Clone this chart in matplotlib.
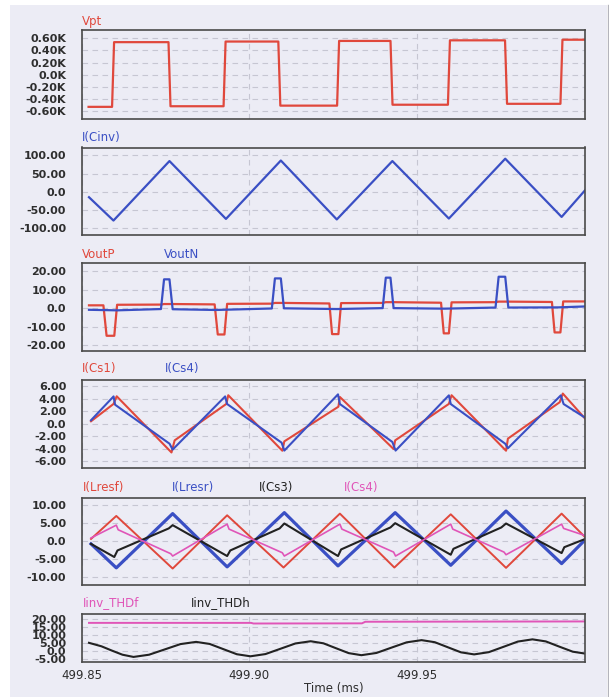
import matplotlib
matplotlib.use("Agg")
import numpy as np
import matplotlib.pyplot as plt
from matplotlib.patches import Rectangle
from matplotlib.lines import Line2D

RED = "#e0483c"
BLUE = "#3a4fc4"
MAGENTA = "#e055b8"
BLACK = "#222222"
BG = "#ececf5"
GRID = "#c6c6d2"

T0 = 499.85  # ms, time offsets below are relative to this

# Vpt (V)
vpt_t = [0.00210, 0.00910, 0.00970, 0.02590, 0.02650, 0.04230, 0.04290, 0.05860,
         0.05920, 0.07610, 0.07670, 0.09200, 0.09260, 0.10910, 0.10970, 0.12610,
         0.12670, 0.14260, 0.14320, 0.15000]
vpt_v = [-530, -530, 535, 535, -520, -520, 545, 545,
         -510, -510, 555, 555, -495, -495, 565, 565,
         -480, -480, 575, 575]

# I(Cinv)
cinv_t = [0.00223, 0.00952, 0.02619, 0.04301, 0.05935, 0.07601, 0.09256,
          0.10938, 0.12616, 0.14295, 0.15000]
cinv_v = [-15.5, -80, 84.5, -75.5, 86, -77, 84.5, -74.5, 91, -70, 4.5]

# VoutP / VoutN
voutp_t = [0.00223, 0.00652, 0.00747, 0.00976, 0.01060, 0.02366, 0.02458, 0.02714,
           0.03964, 0.04057, 0.04256, 0.04336, 0.05667, 0.05759, 0.06027, 0.07381,
           0.07461, 0.07649, 0.07729, 0.08967, 0.09060, 0.09292, 0.10705, 0.10786,
           0.10938, 0.11018, 0.12327, 0.12420, 0.12708, 0.14006, 0.14086, 0.14259,
           0.14342, 0.15000]
voutp_v = [1.5, 1.5, -14.9, -14.9, 1.8, 1.9, 2.2, 2.2,
           2.0, -14.2, -14.2, 2.3, 2.4, 2.8, 2.8, 2.5,
           -14.0, -14.0, 2.7, 2.8, 3.2, 3.2, 2.9, -13.6,
           -13.6, 3.1, 3.2, 3.5, 3.5, 3.3, -13.1, -13.1,
           3.6, 3.6]
voutn_t = [0.00223, 0.01060, 0.02366, 0.02458, 0.02619, 0.02714, 0.04000, 0.05667,
           0.05759, 0.05935, 0.06027, 0.07600, 0.08967, 0.09060, 0.09199, 0.09292,
           0.10800, 0.12327, 0.12420, 0.12616, 0.12708, 0.14200, 0.15000]
voutn_v = [-0.9, -1.2, -0.5, 15.5, 15.5, -0.6, -1.0, -0.2,
           16.0, 16.0, -0.1, -0.5, 0.0, 16.4, 16.4, 0.0,
           -0.3, 0.3, 16.9, 16.9, 0.3, 0.4, 0.9]

# I(Cs1) / I(Cs4)
cs1_t = [0.00283, 0.00955, 0.01048, 0.02679, 0.02774, 0.04313, 0.04369, 0.05979,
         0.06039, 0.07649, 0.07693, 0.09292, 0.09339, 0.10938, 0.11018, 0.12640,
         0.12696, 0.14238, 0.14330, 0.15000]
cs1_v = [0.39, 3.17, 4.39, -4.61, -2.67, 3.17, 4.56, -4.33,
         -2.83, 2.72, 4.28, -4.06, -2.67, 3.17, 4.56, -4.33,
         -2.39, 3.44, 4.83, 0.78]
cs4_t = [0.00283, 0.00955, 0.01000, 0.02622, 0.02714, 0.04277, 0.04336, 0.05958,
         0.06039, 0.07637, 0.07693, 0.09256, 0.09351, 0.10938, 0.10994, 0.12616,
         0.12696, 0.14271, 0.14354, 0.15000]
cs4_v = [0.55, 4.37, 3.04, -3.21, -4.15, 4.37, 3.15, -3.04,
         -4.31, 4.70, 3.15, -2.93, -4.31, 4.54, 3.15, -3.21,
         -3.93, 4.54, 3.15, 0.94]

# I(Lresf), I(Lresr), I(Cs3), I(Cs4)
lresf_t = [0.00283, 0.01036, 0.02714, 0.04336, 0.06015, 0.07693, 0.09315,
           0.10994, 0.12640, 0.14295, 0.15000]
lresf_v = [0.64, 7.0, -7.55, 7.18, -7.27, 7.64, -7.27, 7.45, -7.36, 7.64, 1.09]
lresr_t = [0.00283, 0.01036, 0.02714, 0.04336, 0.06039, 0.07637, 0.09339,
           0.10994, 0.12640, 0.14295, 0.15000]
lresr_v = [-0.73, -7.36, 7.64, -7.09, 7.91, -6.82, 7.91, -6.64, 8.36, -6.18, 0.45]
cs3_t = [0.00283, 0.00976, 0.01071, 0.02598, 0.02714, 0.04336, 0.04429, 0.05899,
         0.06039, 0.07637, 0.07729, 0.09199, 0.09339, 0.10994, 0.11074, 0.12500,
         0.12640, 0.14295, 0.14375, 0.15000]
cs3_v = [-0.73, -4.36, -2.55, 3.55, 4.45, -4.09, -2.55, 3.55,
         4.91, -4.09, -2.27, 3.82, 5.0, -3.73, -2.09, 3.82,
         4.91, -3.27, -1.64, 0.64]
cs4b_t = [0.00283, 0.01036, 0.01092, 0.02658, 0.02714, 0.04336, 0.04393, 0.05979,
          0.06039, 0.07693, 0.07753, 0.09292, 0.09351, 0.10994, 0.11054, 0.12580,
          0.12640, 0.14295, 0.14354, 0.15000]
cs4b_v = [0.91, 4.45, 3.18, -3.45, -4.09, 4.73, 3.36, -3.18,
          -4.09, 4.73, 3.36, -3.0, -4.09, 4.73, 3.36, -3.0,
          -3.73, 4.73, 3.55, 1.55]

# Iinv_THDf / Iinv_THDh
thdf_t = [0.00223, 0.05050, 0.05120, 0.08350, 0.08450, 0.15000]
thdf_v = [17.6, 17.6, 17.2, 17.3, 18.3, 18.5]
thdh_t = [0.00223, 0.00595, 0.00893, 0.01220, 0.01548, 0.02012, 0.02479, 0.02946,
          0.03411, 0.03815, 0.04220, 0.04625, 0.05030, 0.05476, 0.05923, 0.06369,
          0.06824, 0.07202, 0.07577, 0.07955, 0.08333, 0.08780, 0.09226, 0.09679,
          0.10125, 0.10518, 0.10908, 0.11298, 0.11690, 0.12125, 0.12560, 0.12991,
          0.13426, 0.13824, 0.14226, 0.14628, 0.15000]
thdh_v = [5.0, 2.8, 0.2, -2.5, -3.9, -2.5, 0.85, 4.2,
          5.6, 4.3, 1.05, -2.2, -3.5, -2.1, 1.25, 4.6,
          6.0, 4.7, 1.6, -1.5, -2.8, -1.4, 1.95, 5.3,
          6.7, 5.4, 2.2, -1.0, -2.3, -0.9, 2.45, 5.8,
          7.2, 5.9, 2.6, -0.6, -1.8]

W, H = 609, 697
fig = plt.figure(figsize=(W / 100, H / 100), dpi=100, facecolor="white")
fig.patches.append(Rectangle((10 / W, 0), 597 / W, 692 / H, transform=fig.transFigure,
                             facecolor=BG, edgecolor="none", zorder=-10))
fig.add_artist(Line2D([607.5 / W, 607.5 / W], [0, 692 / H], transform=fig.transFigure,
                      color="#b4b4bc", lw=1))

LEFT, RIGHT = 81.5, 585.3


def panel(top, bottom, ylim, ticks, labels, names, label_dy):
    ax = fig.add_axes([LEFT / W, 1 - bottom / H, (RIGHT - LEFT) / W, (bottom - top) / H])
    ax.set_facecolor(BG)
    ax.set_xlim(T0, 500.0)
    ax.set_ylim(*ylim)
    ax.set_xticks([499.85, 499.90, 499.95])
    ax.set_xticklabels(["499.85", "499.90", "499.95"])
    ax.set_yticks(ticks)
    ax.set_yticklabels(labels)
    ax.grid(True, color=GRID, linestyle=(0, (5, 4)), lw=0.8)
    ax.tick_params(length=0, pad=11, labelbottom=False)
    for lab in ax.get_yticklabels():
        lab.set_fontweight("bold")
        lab.set_fontsize(8)
        lab.set_color("#2e2e2e")
    for sp in ax.spines.values():
        sp.set_color("#4a4a4a")
        sp.set_linewidth(1.2)
    for text, dx, color in names:
        ax.annotate(text, xy=(0, 1), xycoords="axes fraction", xytext=(dx, label_dy),
                    textcoords="offset pixels", va="center", ha="left",
                    color=color, fontsize=8.5)
    return ax


def t(offsets):
    return T0 + np.array(offsets)


ax1 = panel(30, 119, (-730, 735), [-600, -400, -200, 0, 200, 400, 600],
            ["-0.60K", "-0.40K", "-0.20K", "0.0K", "0.20K", "0.40K", "0.60K"],
            [("Vpt", 0, RED)], 9)
ax1.plot(t(vpt_t), vpt_v, color=RED, lw=1.6)

ax2 = panel(147.5, 235, (-120, 122), [-100, -50, 0, 50, 100],
            ["-100.00", "-50.00", "0.0", "50.00", "100.00"],
            [("I(Cinv)", 0, BLUE)], 10.5)
ax2.plot(t(cinv_t), cinv_v, color=BLUE, lw=1.6)

ax3 = panel(263, 351, (-23.1, 24.3), [-20, -10, 0, 10, 20],
            ["-20.00", "-10.00", "0.0", "10.00", "20.00"],
            [("VoutP", 0, RED), ("VoutN", 82, BLUE)], 9)
ax3.plot(t(voutp_t), voutp_v, color=RED, lw=1.6)
ax3.plot(t(voutn_t), voutn_v, color=BLUE, lw=1.6)

ax4 = panel(380, 468, (-7.1, 7.0), [-6, -4, -2, 0, 2, 4, 6],
            ["-6.00", "-4.00", "-2.00", "0.0", "2.00", "4.00", "6.00"],
            [("I(Cs1)", 0, RED), ("I(Cs4)", 83, BLUE)], 12)
ax4.plot(t(cs1_t), cs1_v, color=RED, lw=1.5)
ax4.plot(t(cs4_t), cs4_v, color=BLUE, lw=1.5)

ax5 = panel(497.5, 585, (-12.1, 12.1), [-10, -5, 0, 5, 10],
            ["-10.00", "-5.00", "0.0", "5.00", "10.00"],
            [("I(Lresf)", 1, RED), ("I(Lresr)", 90, BLUE), ("I(Cs3)", 177, BLACK),
             ("I(Cs4)", 262, MAGENTA)], 10.5)
ax5.plot(t(lresf_t), lresf_v, color=RED, lw=1.4)
ax5.plot(t(lresr_t), lresr_v, color=BLUE, lw=2.3)
ax5.plot(t(cs3_t), cs3_v, color=BLACK, lw=1.5)
ax5.plot(t(cs4b_t), cs4b_v, color=MAGENTA, lw=1.2)

ax6 = panel(614, 662, (-7.1, 23.2), [-5, 0, 5, 10, 15, 20],
            ["-5.00", "0.0", "5.00", "10.00", "15.00", "20.00"],
            [("Iinv_THDf", 1, MAGENTA), ("Iinv_THDh", 109, BLACK)], 11)
ax6.plot(t(thdf_t), thdf_v, color=MAGENTA, lw=1.4)
ax6.plot(t(thdh_t), thdh_v, color=BLACK, lw=1.5)
ax6.tick_params(axis="x", labelbottom=True, pad=5)
for lab in ax6.get_xticklabels():
    lab.set_fontsize(8.5)
    lab.set_color("#2e2e2e")
ax6.set_xlabel("Time (ms)", fontsize=8.5, color="#2e2e2e", labelpad=0)

fig.savefig("out.png", dpi=100, facecolor="white")
